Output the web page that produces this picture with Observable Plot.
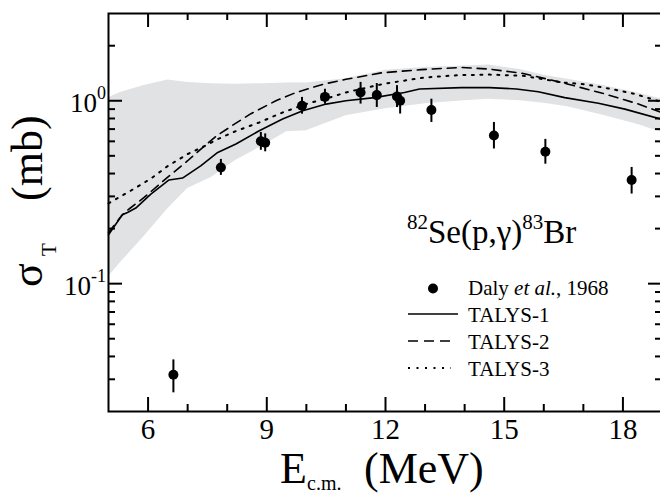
<!DOCTYPE html>
<html><head><meta charset="utf-8">
<script src="https://cdn.jsdelivr.net/npm/d3@7"></script>
<script src="https://cdn.jsdelivr.net/npm/@observablehq/plot@0.6"></script>
<style>
html,body{margin:0;padding:0;background:#fff;}
#chart svg{display:block;}
#chart svg text{font-family:"Liberation Serif","Times New Roman",serif;}
</style></head><body><div id="chart"></div>
<script>
// Daly et al., 1968 measurements
const dalyE   = [6.64, 7.84, 8.85, 8.96, 9.89, 10.47, 11.37, 11.78, 12.29, 12.37, 13.16, 14.74, 16.04, 18.22];
const dalySig = [0.0318, 0.432, 0.60, 0.589, 0.939, 1.05, 1.11, 1.074, 1.056, 1.0, 0.89, 0.646, 0.526, 0.369];
const dalyLo  = [0.0253, 0.391, 0.536, 0.526, 0.845, 0.957, 0.959, 0.919, 0.918, 0.846, 0.761, 0.545, 0.45, 0.309];
const dalyHi  = [0.0383, 0.478, 0.671, 0.659, 1.043, 1.156, 1.26, 1.243, 1.21, 1.065, 1.02, 0.761, 0.615, 0.432];

// TALYS-1 (solid)
const t1E   = [5.0, 5.35, 5.48, 5.69, 6.07, 6.53, 6.87, 7.33, 7.76, 8.22, 8.81, 9.4, 9.91, 10.5, 11.0, 11.72, 12.48, 12.86, 13.92, 14.63, 15.31, 15.86, 16.53, 17.38, 18.05, 19.0];
const t1Sig = [0.185, 0.238, 0.245, 0.259, 0.309, 0.369, 0.378, 0.441, 0.522, 0.58, 0.686, 0.794, 0.882, 0.959, 1.0, 1.04, 1.11, 1.16, 1.18, 1.18, 1.16, 1.12, 1.04, 0.97, 0.90, 0.79];
// TALYS-2 (dashed)
const t2E   = [5.0, 5.35, 5.52, 5.9, 6.49, 7.0, 7.4, 7.72, 8.2, 8.6, 9.23, 9.74, 10.42, 11.0, 11.89, 12.9, 13.92, 14.63, 15.48, 15.98, 16.57, 17.54, 18.39, 19.0];
const t2Sig = [0.19, 0.238, 0.256, 0.296, 0.381, 0.47, 0.56, 0.64, 0.75, 0.85, 1.0, 1.11, 1.23, 1.31, 1.42, 1.48, 1.52, 1.49, 1.41, 1.33, 1.24, 1.09, 0.96, 0.86];
// TALYS-3 (dotted)
const t3E   = [5.0, 5.56, 6.07, 6.5, 7.0, 7.5, 7.71, 8.2, 8.81, 9.4, 9.99, 10.58, 11.0, 11.97, 12.99, 13.83, 14.63, 15.48, 16.45, 17.04, 17.71, 18.3, 19.0];
const t3Sig = [0.275, 0.322, 0.375, 0.44, 0.511, 0.575, 0.61, 0.68, 0.761, 0.863, 0.959, 1.04, 1.11, 1.24, 1.34, 1.38, 1.39, 1.37, 1.26, 1.23, 1.16, 1.09, 0.98];

// TALYS uncertainty band (grey)
const bandE  = [5.0, 5.3, 5.9, 6.5, 7.0, 7.6, 8.2, 8.9, 9.5, 10.0, 11.0, 12.0, 13.0, 14.0, 14.6, 15.4, 16.0, 16.6, 17.5, 18.4, 19.0];
const bandLo = [0.109, 0.130, 0.181, 0.257, 0.331, 0.38, 0.47, 0.568, 0.677, 0.686, 0.828, 0.904, 0.963, 1.0, 1.02, 1.0, 0.969, 0.927, 0.833, 0.739, 0.669];
const bandHi = [1.04, 1.11, 1.21, 1.30, 1.26, 1.24, 1.23, 1.24, 1.25, 1.25, 1.32, 1.47, 1.52, 1.55, 1.57, 1.48, 1.38, 1.31, 1.21, 1.10, 1.02];

// ticks
const xMajor = [6, 9, 12, 15, 18];
const xMinor = [7, 8, 10, 11, 13, 14, 16, 17];
const yMajor = [0.1, 1];
const yMajorExp = ["-1", "0"];
const yMinor = [0.03, 0.04, 0.05, 0.06, 0.07, 0.08, 0.09, 0.2, 0.3, 0.4, 0.5, 0.6, 0.7, 0.8, 0.9, 2];

const legendItems = ["TALYS-1", "TALYS-2", "TALYS-3"];

const daly = dalyE.map((e, i) => ({e, s: dalySig[i], lo: dalyLo[i], hi: dalyHi[i]}));
const t1 = t1E.map((e, i) => ({e, s: t1Sig[i]}));
const t2 = t2E.map((e, i) => ({e, s: t2Sig[i]}));
const t3 = t3E.map((e, i) => ({e, s: t3Sig[i]}));
const band = bandE.map((e, i) => ({e, lo: bandLo[i], hi: bandHi[i]}));

const W = 660, H = 495, mL = 108, mR = -2, mT = 13, mB = 84;
const plotW = W - mL - mR, plotH = H - mT - mB;
const FONT = "Liberation Serif, Times New Roman, serif";

const chart = Plot.plot({
  width: W, height: H,
  marginLeft: mL, marginRight: mR, marginTop: mT, marginBottom: mB,
  style: {fontFamily: FONT, background: "white", color: "black"},
  x: {domain: [5, 19], axis: null},
  y: {type: "log", domain: [0.02, 3], axis: null},
  marks: [
    Plot.areaY(band, {x: "e", y1: "lo", y2: "hi", fill: "#e1e2e4"}),
    Plot.line(t1, {x: "e", y: "s", stroke: "black", strokeWidth: 1.6}),
    Plot.line(t2, {x: "e", y: "s", stroke: "black", strokeWidth: 1.6, strokeDasharray: "9,6"}),
    Plot.line(t3, {x: "e", y: "s", stroke: "black", strokeWidth: 2, strokeDasharray: "2,6.5"}),
    Plot.ruleX(daly, {x: "e", y1: "lo", y2: "hi", stroke: "black", strokeWidth: 2}),
    Plot.dot(daly, {x: "e", y: "s", r: 5, fill: "black", stroke: "none"}),
    // x ticks bottom & top
    Plot.tickX(xMajor, {x: d => d, insetTop: plotH - 14, stroke: "black", strokeWidth: 2}),
    Plot.tickX(xMinor, {x: d => d, insetTop: plotH - 7, stroke: "black", strokeWidth: 2}),
    Plot.tickX(xMajor, {x: d => d, insetBottom: plotH - 14, stroke: "black", strokeWidth: 2}),
    Plot.tickX(xMinor, {x: d => d, insetBottom: plotH - 7, stroke: "black", strokeWidth: 2}),
    // y ticks left & right
    Plot.tickY(yMajor, {y: d => d, insetRight: plotW - 14, stroke: "black", strokeWidth: 2}),
    Plot.tickY(yMinor, {y: d => d, insetRight: plotW - 7, stroke: "black", strokeWidth: 2}),
    Plot.tickY(yMajor, {y: d => d, insetLeft: plotW - 14, stroke: "black", strokeWidth: 2}),
    Plot.tickY(yMinor, {y: d => d, insetLeft: plotW - 7, stroke: "black", strokeWidth: 2}),
    Plot.text(xMajor, {x: d => d, text: d => String(d), frameAnchor: "bottom", dy: 18, lineAnchor: "middle", fontSize: 29, fill: "black", fontFamily: FONT}),
    Plot.frame({stroke: "black", strokeWidth: 2})
  ]
});
document.getElementById("chart").appendChild(chart);

const ys = chart.scale("y");
const svg = d3.select(chart);

function txt(sel) {
  return sel.append("text").attr("text-anchor", "start").style("font-family", FONT).attr("fill", "black");
}

// y tick labels with superscript exponents
yMajor.forEach((v, i) => {
  const t = txt(svg).attr("text-anchor", "end")
    .attr("x", mL - 2).attr("y", ys.apply(v) + 12);
  t.append("tspan").attr("font-size", 27).text("10");
  t.append("tspan").attr("font-size", 18).attr("dy", -13).text(yMajorExp[i]);
});

// y axis title: σ_T (mb)
const yt = txt(svg).attr("transform", "translate(42,0) rotate(-90)").attr("font-size", 44);
yt.append("tspan").attr("x", -287).attr("y", 0).text("σ");
yt.append("tspan").attr("x", -256).attr("y", 14).attr("font-size", 21).text("T");
yt.append("tspan").attr("x", -201).attr("y", 0).text("(mb)");

// x axis title: E_c.m. (MeV)
const xt = txt(svg).attr("font-size", 44);
xt.append("tspan").attr("x", 280).attr("y", 483).text("E");
xt.append("tspan").attr("x", 307).attr("y", 490).attr("font-size", 20).text("c.m.");
xt.append("tspan").attr("x", 364).attr("y", 483).text("(MeV)");

// reaction label
const rl = txt(svg).attr("x", 407).attr("y", 243).attr("font-size", 33);
rl.append("tspan").attr("font-size", 21).attr("dy", -14).text("82");
rl.append("tspan").attr("dy", 14).text("Se(p,γ)");
rl.append("tspan").attr("font-size", 21).attr("dy", -14).text("83");
rl.append("tspan").attr("dy", 14).text("Br");

// legend
const lg = svg.append("g");
lg.append("circle").attr("cx", 433).attr("cy", 288.5).attr("r", 5).attr("fill", "black");
const lt0 = txt(lg).attr("x", 468).attr("y", 295).attr("font-size", 21);
lt0.append("tspan").text("Daly ");
lt0.append("tspan").attr("font-style", "italic").text("et al.");
lt0.append("tspan").text(", 1968");
const rowY = [321.5, 348.5, 375.5];
const dashes = [null, "10,6", "2,6.5"];
legendItems.forEach((name, i) => {
  lg.append("line").attr("x1", 408).attr("x2", i === 0 ? 458 : 451)
    .attr("y1", rowY[i] - 7.5).attr("y2", rowY[i] - 7.5)
    .attr("stroke", "black").attr("stroke-width", i === 2 ? 1.8 : 1.6)
    .attr("stroke-dasharray", dashes[i]);
  txt(lg).attr("x", 468).attr("y", rowY[i]).attr("font-size", 21).text(name);
});
</script>
</body></html>
